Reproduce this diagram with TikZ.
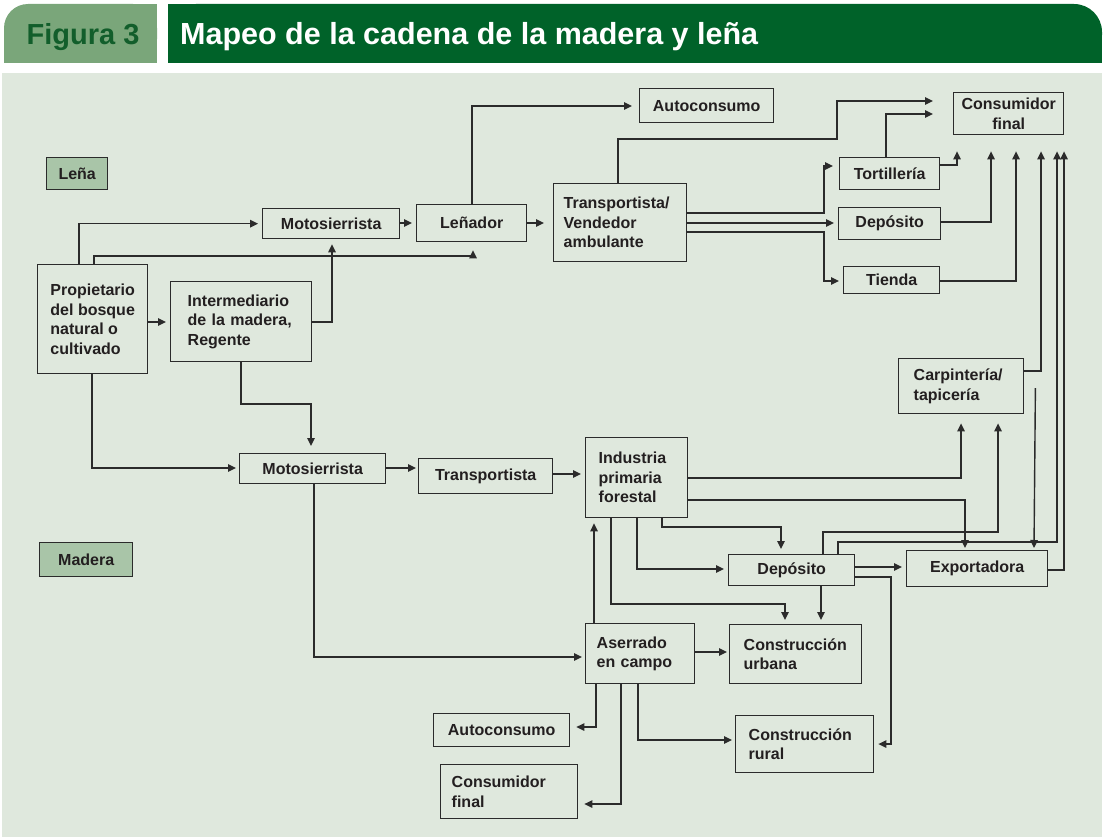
\documentclass[tikz,border=0pt]{standalone}
\usepackage{fontspec}
\setmainfont{Liberation Sans}
\usetikzlibrary{arrows.meta,calc}
\definecolor{bodyc}{HTML}{DFE8DD}
\definecolor{darkg}{HTML}{006229}
\definecolor{tabg}{HTML}{7AA67A}
\definecolor{tabtext}{HTML}{125E2B}
\definecolor{labfill}{HTML}{A9C5A8}
\definecolor{linec}{HTML}{2B2B2B}
\definecolor{txtc}{HTML}{231F20}
\tikzset{
  bx/.style={draw=linec, line width=1.4pt, anchor=north west, inner sep=0pt,
    font=\bfseries\fontsize{16}{19.5}\selectfont, text=txtc},
  lab/.style={bx, fill=labfill},
  arr/.style={draw=linec, line width=1.4pt, -{Triangle[length=8pt,width=7.5pt]}, shorten >=4pt},
  ln/.style={draw=linec, line width=1.4pt}
}
\begin{document}
\begin{tikzpicture}[x=1pt,y=-1pt]
\useasboundingbox (0,0) rectangle (1104,840);
% header
\fill[tabg, rounded corners=24pt] (4,4) rectangle (157,63);
\fill[tabg] (100,4) rectangle (157,63);
\fill[tabg] (4,30) rectangle (157,63);
\fill[darkg, rounded corners=28pt] (168,4) rectangle (1102,63);
\fill[darkg] (168,4) rectangle (1000,63);
\fill[darkg] (168,35) rectangle (1102,63);
\node[anchor=base, inner sep=0pt, text=tabtext, font=\bfseries\fontsize{29}{34}\selectfont] (fig) at (83,45) {Figura 3};
\node[anchor=base west, inner sep=0pt, text=white, font=\bfseries\fontsize{30.5}{36}\selectfont] (title) at (180,45) {Mapeo de la cadena de la madera y leña};
% body
\fill[bodyc] (2,73) rectangle (1102,837);

% labels
\node[lab, minimum width=61pt, minimum height=32pt] (lena) at (46,157) {Leña};
\node[lab, minimum width=93pt, minimum height=34pt] (madera) at (39,542) {Madera};

% boxes
\node[bx, minimum width=110pt, minimum height=109pt, align=left] (prop) at (37,264) {Propietario\\del bosque\\natural o\\cultivado};
\node[bx, minimum width=141pt, minimum height=80pt, text width=107pt, inner xsep=17pt, align=left] (inter) at (170,281) {Intermediario\\de la madera,\\Regente};
\node[bx, minimum width=137pt, minimum height=30pt] (moto1) at (262,208) {Motosierrista};
\node[bx, minimum width=110pt, minimum height=37pt] (lenador) at (416,204) {Leñador};
\node[bx, minimum width=134pt, minimum height=34pt] (auto1) at (639,88) {Autoconsumo};
\node[bx, minimum width=133pt, minimum height=78pt, text width=113pt, inner xsep=10pt, align=left] (transv) at (553,183) {Transportista/\\Vendedor\\ambulante};
\node[bx, minimum width=110pt, minimum height=42pt, align=center] (cf1) at (953,92) {Consumidor\\final};
\node[bx, minimum width=100pt, minimum height=32pt] (tort) at (839,157) {Tortillería};
\node[bx, minimum width=102pt, minimum height=32pt] (dep1) at (838,207) {Depósito};
\node[bx, minimum width=96pt, minimum height=27pt] (tienda) at (843,266) {Tienda};
\node[bx, minimum width=125pt, minimum height=55pt, text width=95pt, inner xsep=15pt, align=left] (carp) at (898,358) {Carpintería/\\tapicería};
\node[bx, minimum width=146pt, minimum height=30pt] (moto2) at (239,453) {Motosierrista};
\node[bx, minimum width=134pt, minimum height=35pt] (transp) at (418,458) {Transportista};
\node[bx, minimum width=102pt, minimum height=80pt, text width=76pt, inner xsep=13pt, align=left] (ind) at (585,437) {Industria\\primaria\\forestal};
\node[bx, minimum width=126pt, minimum height=31pt] (dep2) at (728,554) {Depósito};
\node[bx, minimum width=141pt, minimum height=36pt] (expo) at (906,550) {Exportadora};
\node[bx, minimum width=109pt, minimum height=60pt, text width=87pt, inner xsep=11pt, align=left] (aser) at (585,623) {Aserrado\\en campo};
\node[bx, minimum width=132pt, minimum height=59pt, text width=104pt, inner xsep=14pt, align=left] (curb) at (729,624) {Construcción\\urbana};
\node[bx, minimum width=136pt, minimum height=33pt] (auto2) at (433,713) {Autoconsumo};
\node[bx, minimum width=138pt, minimum height=57pt, text width=112pt, inner xsep=13pt, align=left] (crur) at (735,715) {Construcción\\rural};
\node[bx, minimum width=137pt, minimum height=54pt, text width=115pt, inner xsep=11pt, align=left] (cf2) at (440,764) {Consumidor\\final};

% connectors: Leña chain
\draw[arr] (79,0 |- prop.north) |- (moto1.west);
\draw[arr, shorten >=8pt] (94,0 |- prop.north) -- (94,256) -- (473,256) -- (473,0 |- lenador.south);
\draw[arr] (prop.east |- 0,322) -- (inter.west |- 0,322);
\draw[arr, shorten >=5pt] (inter.east |- 0,322) -| (332,0 |- moto1.south);
\draw[arr] (moto1.east |- 0,223) -- (lenador.west |- 0,223);
\draw[arr, shorten >=9pt] (lenador.east |- 0,223) -- (transv.west |- 0,223);
\draw[arr, shorten >=7pt] (472,0 |- lenador.north) |- (auto1.west |- 0,106);
\draw[arr, shorten >=20pt] (618,0 |- transv.north) -- (618,139) -- (837,139) |- (cf1.west |- 0,101);
\draw[arr, shorten >=6pt] (transv.east |- 0,213) -| (824,166) -- (tort.west |- 0,166);
\draw[arr] (transv.east |- 0,223) -- (dep1.west |- 0,223);
\draw[arr] (transv.east |- 0,232) -| (824,281) -- (tienda.west |- 0,281);
\draw[arr, shorten >=20pt] (886,0 |- tort.north) |- (cf1.west |- 0,114);
\draw[arr, shorten >=16pt] (tort.east |- 0,165) -| (957,0 |- cf1.south);
\draw[arr, shorten >=16pt] (dep1.east |- 0,222) -| (991,0 |- cf1.south);
\draw[arr, shorten >=16pt] (tienda.east |- 0,281) -| (1016,0 |- cf1.south);
\draw[arr, shorten >=16pt] (carp.east |- 0,371) -| (1041,0 |- cf1.south);
\draw[arr, shorten >=16pt] (838,0 |- dep2.north) |- (1057,542) -- (1057,0 |- cf1.south);
\draw[arr, shorten >=16pt] (expo.east |- 0,570) -| (1064,0 |- cf1.south);
\draw[arr, shorten >=2pt] ([xshift=11pt,yshift=-2pt]carp.east) -- (1034,0 |- expo.north);

% Madera chain
\draw[arr, shorten >=2pt] (moto2.east |- 0,468) -- (transp.west |- 0,468);
\draw[arr] (transp.east |- 0,474) -- (ind.west |- 0,474);
\draw[arr, shorten >=3pt] (92,0 |- prop.south) |- (moto2.west |- 0,468);
\draw[arr, shorten >=7pt] (241,0 |- inter.south) |- (311,404) -- (311,0 |- moto2.north);
\draw[arr, shorten >=3pt] (314,0 |- moto2.south) |- (aser.west |- 0,657);
\draw[arr, shorten >=9pt] (ind.east |- 0,478) -| (961,0 |- carp.south);
\draw[arr, shorten >=2pt] (ind.east |- 0,500) -| (965,0 |- expo.north);
\draw[arr, shorten >=5pt] (662,0 |- ind.south) |- (781,527) -- (781,0 |- dep2.north);
\draw[arr] (637,0 |- ind.south) |- (dep2.west |- 0,569);
\draw[arr] (611,0 |- ind.south) |- (785,604) -- (785,0 |- curb.north);
\draw[arr, shorten >=5pt] (594,0 |- aser.north) -- (594,0 |- ind.south);
\draw[arr, shorten >=9pt] (823,0 |- dep2.north) |- (998,532) -- (998,0 |- carp.south);
\draw[arr] (dep2.east |- 0,567) -- (expo.west |- 0,567);
\draw[arr] (dep2.east |- 0,577) -| (891,744) -- (crur.east |- 0,744);
\draw[arr] (821,0 |- dep2.south) -- (821,0 |- curb.north);
\draw[arr, shorten >=2pt] (aser.east |- 0,652) -- (curb.west |- 0,652);
\draw[arr, shorten >=6pt] (596,0 |- aser.south) |- (auto2.east |- 0,727);
\draw[arr, shorten >=6pt] (621,0 |- aser.south) |- (cf2.east |- 0,804);
\draw[arr, shorten >=3pt] (638,0 |- aser.south) |- (crur.west |- 0,740);
\end{tikzpicture}
\end{document}
